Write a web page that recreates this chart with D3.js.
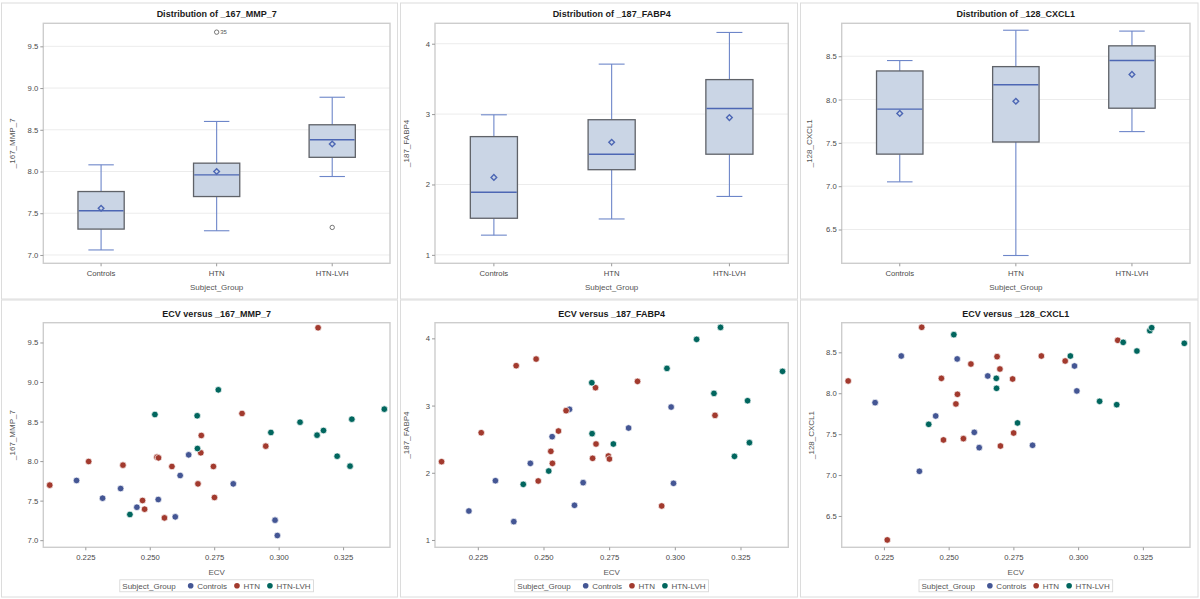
<!DOCTYPE html>
<html><head><meta charset="utf-8">
<script src="https://cdn.jsdelivr.net/npm/d3@7/dist/d3.min.js"></script>
<style>
body{margin:0;background:#fff}
svg{display:block}
text{font-family:"Liberation Sans",Arial,Helvetica,sans-serif}
</style>
</head><body>
<svg id="c" width="1200" height="599"></svg>
<script>
// ---------------- DATA ----------------
const groups = ["Controls", "HTN", "HTN-LVH"];

// box statistics per group: [whiskerLow, q1, median, q3, whiskerHigh, mean]
const mmp7Box  = [[7.06, 7.31, 7.53, 7.76, 8.08, 7.56], [7.29, 7.70, 7.96, 8.10, 8.60, 8.00], [7.94, 8.17, 8.38, 8.56, 8.89, 8.33]];
const fabp4Box = [[1.28, 1.52, 1.89, 2.68, 2.99, 2.10], [1.51, 2.21, 2.43, 2.92, 3.71, 2.60], [1.83, 2.43, 3.08, 3.49, 4.16, 2.95]];
const cxcl1Box = [[7.05, 7.37, 7.89, 8.33, 8.45, 7.84], [6.20, 7.51, 8.17, 8.38, 8.80, 7.98], [7.63, 7.90, 8.45, 8.62, 8.79, 8.29]];
const mmp7Outliers  = [["HTN", 9.67, "35"], ["HTN-LVH", 7.33, ""]];
const fabp4Outliers = [];
const cxcl1Outliers = [];

const mmp7Ticks  = [7.0, 7.5, 8.0, 8.5, 9.0, 9.5];
const fabp4Ticks = [1, 2, 3, 4];
const cxcl1Ticks = [6.5, 7.0, 7.5, 8.0, 8.5];
const ecvTicks   = [0.225, 0.250, 0.275, 0.300, 0.325];

// per-subject values (scatter)
const ecvControls   = [0.2216, 0.2317, 0.2387, 0.2450, 0.2533, 0.2599, 0.2618, 0.2651, 0.2824, 0.2986, 0.2995];
const mmp7Controls  = [7.755, 7.531, 7.653, 7.417, 7.514, 7.295, 7.818, 8.079, 7.712, 7.253, 7.059];
const fabp4Controls = [1.431, 1.882, 1.273, 2.140, 2.537, 2.944, 1.516, 1.853, 2.666, 2.978, 1.843];
const cxcl1Controls = [7.885, 8.455, 7.046, 7.722, 8.419, 7.522, 7.335, 8.211, 7.364, 8.333, 8.028];

const ecvHTN   = [0.2112, 0.2263, 0.2396, 0.2472, 0.2480, 0.2528, 0.2534, 0.2557, 0.2586, 0.2687, 0.2698, 0.2700, 0.2747, 0.2751, 0.2858, 0.2950, 0.3153];
const mmp7HTN  = [7.696, 7.995, 7.949, 7.502, 7.392, 8.050, 8.041, 7.282, 7.932, 7.712, 8.105, 8.324, 7.932, 7.540, 8.602, 8.189, 9.686];
const fabp4HTN = [2.165, 2.596, 3.593, 3.692, 1.878, 2.319, 2.140, 2.621, 2.924, 2.215, 3.266, 2.428, 2.249, 2.205, 3.360, 1.506, 2.854];
const cxcl1HTN = [8.150, 6.207, 8.806, 8.182, 7.429, 7.869, 7.987, 7.445, 8.357, 8.447, 8.296, 7.355, 8.174, 7.514, 8.455, 8.394, 8.647];

const ecvLVH   = [0.2423, 0.2520, 0.2684, 0.2685, 0.2766, 0.2970, 0.3083, 0.3149, 0.3174, 0.3227, 0.3277, 0.3284, 0.3410];
const mmp7LVH  = [7.325, 8.589, 8.573, 8.159, 8.901, 8.362, 8.492, 8.328, 8.387, 8.062, 7.936, 8.530, 8.657];
const fabp4LVH = [1.828, 2.026, 3.340, 2.582, 2.428, 3.553, 3.985, 3.181, 4.163, 2.244, 3.072, 2.448, 3.509];
const cxcl1LVH = [7.620, 8.716, 8.182, 8.060, 7.637, 8.455, 7.901, 7.860, 8.622, 8.516, 8.765, 8.801, 8.610];

// ---------------- DRAW ----------------
const svg = d3.select("#c");
const groupColor = d3.scaleOrdinal().domain(groups).range(["#445694", "#A23A2E", "#01665E"]);
const BOXFILL = "#CAD5E5", BOXLINE = "#5f6268", WHISK = "#6d86c9", MEDIAN = "#4d67b4";
const fmt1 = d3.format(".1f"), fmt0 = d3.format("d"), fmt3 = d3.format(".3f");

// panel frames
[[1.5, 3, 396, 296], [400.5, 3, 397, 296], [800.5, 3, 397.5, 296],
 [1.5, 300, 396, 297], [400.5, 300, 397, 297], [800.5, 300, 397.5, 297]].forEach(f => {
  svg.append("rect").attr("x", f[0]).attr("y", f[1]).attr("width", f[2]).attr("height", f[3])
    .attr("fill", "none").attr("stroke", "#dcdcdc").attr("stroke-width", 1);
});

function styleAxis(g) {
  g.select(".domain").remove();
  g.selectAll(".tick line").attr("stroke", "#9a9a9a");
  g.selectAll(".tick text").attr("fill", "#4a4a4a").style("font-size", "7.7px")
    .style("font-family", '"Liberation Sans",Arial,sans-serif');
}

function frame(p) {
  svg.append("rect").attr("x", p.l).attr("y", p.t).attr("width", p.r - p.l).attr("height", p.b - p.t)
    .attr("fill", "none").attr("stroke", "#cdcdcd").attr("stroke-width", 1.4);
}

function titles(p, title, ylab, xlab) {
  const cx = (p.l + p.r) / 2;
  svg.append("text").attr("x", cx).attr("y", p.t - 6).attr("text-anchor", "middle")
    .style("font-size", "9px").style("font-weight", "bold").attr("fill", "#1a1a1a").text(title);
  svg.append("text").attr("x", cx).attr("y", p.xlabY).attr("text-anchor", "middle")
    .style("font-size", "8px").attr("fill", "#555").text(xlab);
  svg.append("text").attr("transform", `translate(${p.ylabX},${(p.t + p.b) / 2}) rotate(-90)`)
    .attr("text-anchor", "middle").style("font-size", "8px").attr("fill", "#555").text(ylab);
}

function boxPanel(p, stats, outliers, ticks, fmt, title, ylab) {
  const x = d3.scaleBand().domain(groups).range([p.l, p.r]);
  const y = d3.scaleLinear().domain(p.yd).range([p.b, p.t]);
  // grid
  svg.append("g").selectAll("line").data(ticks).join("line")
    .attr("x1", p.l).attr("x2", p.r).attr("y1", d => y(d)).attr("y2", d => y(d))
    .attr("stroke", "#ececec").attr("stroke-width", 1);
  const bw = x.bandwidth() * 0.40, cw = x.bandwidth() * 0.22;
  groups.forEach((g, i) => {
    const s = stats[i], cx = x(g) + x.bandwidth() / 2;
    const G = svg.append("g");
    // whiskers
    G.append("line").attr("x1", cx).attr("x2", cx).attr("y1", y(s[0])).attr("y2", y(s[1])).attr("stroke", WHISK).attr("stroke-width", 1.1);
    G.append("line").attr("x1", cx).attr("x2", cx).attr("y1", y(s[3])).attr("y2", y(s[4])).attr("stroke", WHISK).attr("stroke-width", 1.1);
    G.append("line").attr("x1", cx - cw / 2).attr("x2", cx + cw / 2).attr("y1", y(s[0])).attr("y2", y(s[0])).attr("stroke", WHISK).attr("stroke-width", 1.1);
    G.append("line").attr("x1", cx - cw / 2).attr("x2", cx + cw / 2).attr("y1", y(s[4])).attr("y2", y(s[4])).attr("stroke", WHISK).attr("stroke-width", 1.1);
    // box
    G.append("rect").attr("x", cx - bw / 2).attr("y", y(s[3])).attr("width", bw).attr("height", y(s[1]) - y(s[3]))
      .attr("fill", BOXFILL).attr("stroke", BOXLINE).attr("stroke-width", 1.3);
    // median
    G.append("line").attr("x1", cx - bw / 2 + 0.7).attr("x2", cx + bw / 2 - 0.7).attr("y1", y(s[2])).attr("y2", y(s[2]))
      .attr("stroke", MEDIAN).attr("stroke-width", 1.4);
    // mean (diamond = rotated square)
    G.append("path").attr("d", d3.symbol(d3.symbolSquare, 16)()).attr("transform", `translate(${cx},${y(s[5])}) rotate(45)`)
      .attr("fill", BOXFILL).attr("stroke", MEDIAN).attr("stroke-width", 1.4);
  });
  outliers.forEach(o => {
    const cx = x(o[0]) + x.bandwidth() / 2;
    svg.append("circle").attr("cx", cx).attr("cy", y(o[1])).attr("r", 2.2)
      .attr("fill", "none").attr("stroke", "#666").attr("stroke-width", 0.9);
    if (o[2]) svg.append("text").attr("x", cx + 3.5).attr("y", y(o[1]) + 2).style("font-size", "6px").attr("fill", "#555").text(o[2]);
  });
  frame(p);
  const ya = svg.append("g").attr("transform", `translate(${p.l},0)`).call(d3.axisLeft(y).tickValues(ticks).tickFormat(fmt).tickSize(3).tickPadding(2));
  styleAxis(ya);
  const xa = svg.append("g").attr("transform", `translate(0,${p.b})`).call(d3.axisBottom(x).tickSize(3).tickPadding(4));
  styleAxis(xa);
  titles(p, title, ylab, "Subject_Group");
}

function scatterPanel(p, sets, ticks, fmt, title, ylab) {
  const x = d3.scaleLinear().domain([0.2087, 0.3432]).range([p.l, p.r]);
  const y = d3.scaleLinear().domain(p.yd).range([p.b, p.t]);
  sets.forEach(s => {
    const pts = d3.zip(s.xs, s.ys);
    svg.append("g").selectAll("circle").data(pts).join("circle")
      .attr("cx", d => x(d[0])).attr("cy", d => y(d[1])).attr("r", 3.3)
      .attr("fill", groupColor(s.g)).attr("stroke", "#fff").attr("stroke-width", 0.7);
  });
  frame(p);
  const ya = svg.append("g").attr("transform", `translate(${p.l},0)`).call(d3.axisLeft(y).tickValues(ticks).tickFormat(fmt).tickSize(3).tickPadding(2));
  styleAxis(ya);
  const xa = svg.append("g").attr("transform", `translate(0,${p.b})`).call(d3.axisBottom(x).tickValues(ecvTicks).tickFormat(fmt3).tickSize(3).tickPadding(4));
  styleAxis(xa);
  titles(p, title, ylab, "ECV");
  // legend
  const cx = (p.l + p.r) / 2, ly = 585.8;
  const L = svg.append("g");
  let cur = 0;
  const t0 = L.append("text").attr("x", cur).attr("y", ly + 2.8).style("font-size", "8px").attr("fill", "#555").text("Subject_Group");
  cur += t0.node().getComputedTextLength() + 15;
  groups.forEach((g, i) => {
    L.append("circle").attr("cx", cur).attr("cy", ly).attr("r", 2.8).attr("fill", groupColor(g));
    cur += 6.5;
    const t = L.append("text").attr("x", cur).attr("y", ly + 2.8).style("font-size", "8px").attr("fill", "#555").text(g);
    cur += t.node().getComputedTextLength() + (i < 2 ? 10 : 0);
  });
  const totalW = cur + 5.5;
  L.insert("rect", ":first-child").attr("x", -2.5).attr("y", ly - 6).attr("width", totalW).attr("height", 12)
    .attr("fill", "#fff").attr("stroke", "#d4d4d4").attr("stroke-width", 0.8);
  L.attr("transform", `translate(${cx - totalW / 2 + 2.5},0)`);
}

const topT = 23.3, topB = 263.3, botT = 322.7, botB = 547.3;
const P1 = {l: 43.3, r: 390, t: topT, b: topB, yd: [6.9, 9.776], xlabY: 290, ylabX: 15};
const P2 = {l: 435, r: 788.3, t: topT, b: topB, yd: [0.88, 4.29], xlabY: 290, ylabX: 409};
const P3 = {l: 841.7, r: 1190, t: topT, b: topB, yd: [6.11, 8.88], xlabY: 290, ylabX: 812};
const P4 = {l: 43.3, r: 390, t: botT, b: botB, yd: [6.91, 9.75], xlabY: 574.5, ylabX: 15};
const P5 = {l: 435, r: 788.3, t: botT, b: botB, yd: [0.891, 4.233], xlabY: 574.5, ylabX: 409};
const P6 = {l: 841.7, r: 1190, t: botT, b: botB, yd: [6.117, 8.862], xlabY: 574.5, ylabX: 814};

boxPanel(P1, mmp7Box, mmp7Outliers, mmp7Ticks, fmt1, "Distribution of _167_MMP_7", "_167_MMP_7");
boxPanel(P2, fabp4Box, fabp4Outliers, fabp4Ticks, fmt0, "Distribution of _187_FABP4", "_187_FABP4");
boxPanel(P3, cxcl1Box, cxcl1Outliers, cxcl1Ticks, fmt1, "Distribution of _128_CXCL1", "_128_CXCL1");

scatterPanel(P4, [{g: "Controls", xs: ecvControls, ys: mmp7Controls}, {g: "HTN", xs: ecvHTN, ys: mmp7HTN}, {g: "HTN-LVH", xs: ecvLVH, ys: mmp7LVH}],
  mmp7Ticks, fmt1, "ECV versus _167_MMP_7", "_167_MMP_7");
scatterPanel(P5, [{g: "Controls", xs: ecvControls, ys: fabp4Controls}, {g: "HTN", xs: ecvHTN, ys: fabp4HTN}, {g: "HTN-LVH", xs: ecvLVH, ys: fabp4LVH}],
  fabp4Ticks, fmt0, "ECV versus _187_FABP4", "_187_FABP4");
scatterPanel(P6, [{g: "Controls", xs: ecvControls, ys: cxcl1Controls}, {g: "HTN", xs: ecvHTN, ys: cxcl1HTN}, {g: "HTN-LVH", xs: ecvLVH, ys: cxcl1LVH}],
  cxcl1Ticks, fmt1, "ECV versus _128_CXCL1", "_128_CXCL1");
</script>
</body></html>
